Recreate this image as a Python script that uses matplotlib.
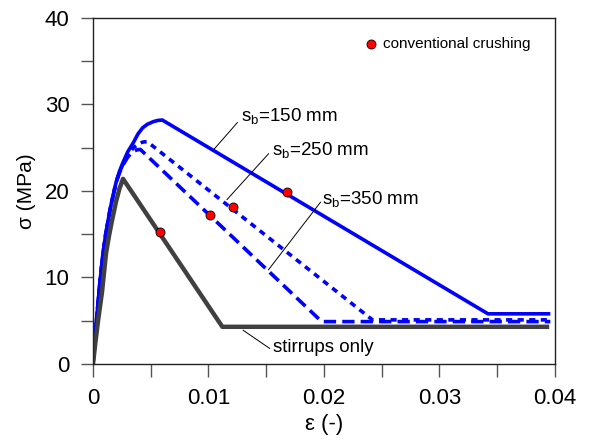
import numpy as np
import matplotlib.pyplot as plt

plt.rcParams['font.family'] = ['Liberation Sans', 'DejaVu Sans']
plt.rcParams['mathtext.fontset'] = 'custom'
plt.rcParams['mathtext.rm'] = 'Liberation Sans'

# Curve values (strain, stress in MPa)
eps_150 = [0, 0.00015, 0.0003, 0.0006, 0.00087, 0.0011, 0.0015, 0.0018, 0.002, 0.0023, 0.0026,
           0.003, 0.0035, 0.0039, 0.0043, 0.0047, 0.0052, 0.0056, 0.006, 0.0342, 0.0396]
sig_150 = [0, 2.8, 5.0, 9.5, 12.8, 15.0, 18.0, 19.8, 21.0, 22.3, 23.3,
           24.5, 25.6, 26.6, 27.3, 27.7, 28.0, 28.15, 28.2, 5.8, 5.8]

eps_250 = [0, 0.00015, 0.0003, 0.0006, 0.00087, 0.0011, 0.0015, 0.0018, 0.002, 0.0023, 0.0026,
           0.003, 0.0035, 0.0039, 0.0043, 0.0047, 0.0242, 0.0396]
sig_250 = [0, 2.8, 5.0, 9.5, 12.8, 15.0, 18.0, 19.8, 21.0, 22.2, 23.1,
           24.1, 25.0, 25.4, 25.65, 25.7, 5.1, 5.1]

eps_350 = [0, 0.00015, 0.0003, 0.0006, 0.00087, 0.0011, 0.0015, 0.0018, 0.002, 0.0023, 0.0026,
           0.003, 0.0034, 0.0038, 0.0041, 0.0198, 0.0396]
sig_350 = [0, 2.8, 5.0, 9.5, 12.8, 15.0, 18.0, 19.8, 21.0, 22.1, 23.0,
           23.9, 24.5, 24.75, 24.8, 4.9, 4.9]

eps_stir = [0, 0.0002, 0.00045, 0.00078, 0.00113, 0.0014, 0.00165, 0.002, 0.0023, 0.0026, 0.0112, 0.0395]
sig_stir = [0, 2.4, 5.1, 8.3, 12.8, 14.9, 16.6, 18.8, 20.3, 21.4, 4.3, 4.3]

# conventional crushing points
eps_crush = [0.0058, 0.0101, 0.01215, 0.0168]
sig_crush = [15.3, 17.2, 18.2, 19.9]

fig = plt.figure(figsize=(5.98, 4.48), dpi=100)
ax = fig.add_axes([0.1555, 0.1875, 0.7725, 0.7725])

blue = '#0000ff'
ax.plot(eps_150, sig_150, color=blue, lw=2.6, solid_capstyle='butt', solid_joinstyle='round')
ax.plot(eps_250, sig_250, color=blue, lw=2.6, dashes=(1.7, 1.5))
ax.plot(eps_350, sig_350, color=blue, lw=2.6, dashes=(3.4, 1.7))
ax.plot(eps_stir, sig_stir, color='#404040', lw=3.2, solid_capstyle='butt', solid_joinstyle='round')
ax.plot(eps_crush, sig_crush, 'o', color='red', mec='black', mew=0.6, ms=6.5, zorder=5)

# legend entry
ax.plot([0.0241], [37.0], 'o', color='red', mec='black', mew=0.6, ms=6.5)
ax.text(0.0251, 37.0, 'conventional crushing', fontsize=11, va='center')

# labels with leader lines
fs = 13.5
ax.plot([0.0104, 0.0125], [24.7, 27.9], color='black', lw=0.7)
ax.text(0.0128, 28.6, r's$_\mathrm{b}$=150 mm', fontsize=fs, va='center')
ax.plot([0.0116, 0.0152], [19.0, 24.3], color='black', lw=0.7)
ax.text(0.0155, 24.6, r's$_\mathrm{b}$=250 mm', fontsize=fs, va='center')
ax.plot([0.0152, 0.0197], [10.9, 18.7], color='black', lw=0.7)
ax.text(0.0198, 19.0, r's$_\mathrm{b}$=350 mm', fontsize=fs, va='center')
ax.plot([0.013, 0.0153], [3.9, 1.8], color='black', lw=0.7)
ax.text(0.0156, 1.9, 'stirrups only', fontsize=fs, va='center')

ax.set_xlim(0, 0.04)
ax.set_ylim(0, 40)
ax.set_xticks(np.arange(0, 0.0401, 0.005))
ax.set_xticklabels(['0', '', '0.01', '', '0.02', '', '0.03', '', '0.04'])
ax.set_yticks(np.arange(0, 41, 5))
ax.set_yticklabels(['0', '', '10', '', '20', '', '30', '', '40'])
ax.tick_params(direction='out', length=9, width=1, color='#555555', labelsize=16, pad=8)
ax.set_xlabel('ε (-)', fontsize=16, labelpad=4)
ax.set_ylabel('σ (MPa)', fontsize=15, labelpad=6)
for s in ax.spines.values():
    s.set_linewidth(1)
    s.set_color('#222222')

fig.savefig('out.png', dpi=100)
